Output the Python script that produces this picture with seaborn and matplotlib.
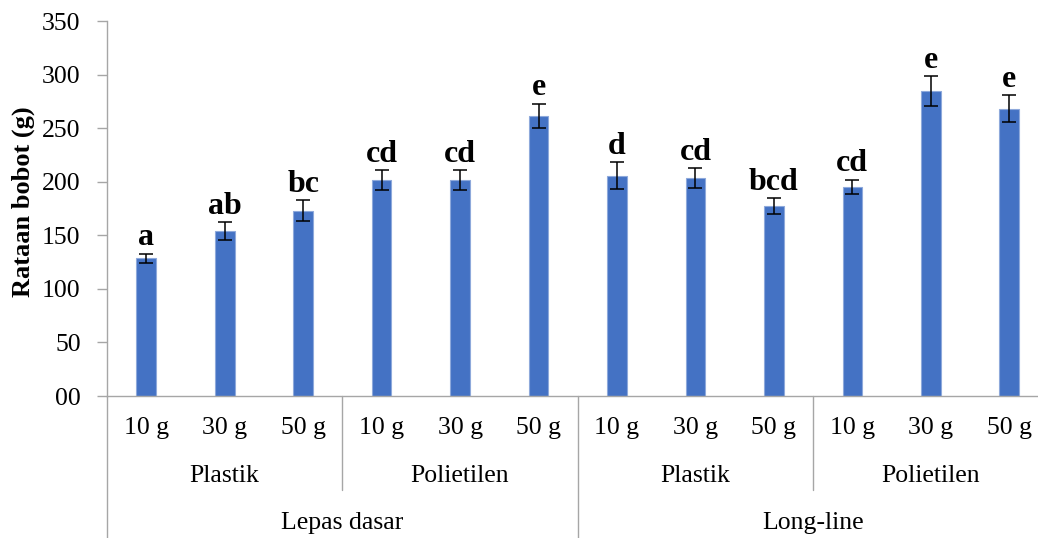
import matplotlib
matplotlib.use("Agg")
import matplotlib.pyplot as plt
import seaborn as sns
import pandas as pd

# Mean weight per treatment, with standard error and significance letters
sizes = ["10 g", "30 g", "50 g"] * 4
materials = ["Plastik", "Polietilen", "Plastik", "Polietilen"]
methods = ["Lepas dasar", "Long-line"]
means = [128.5, 154, 173, 201.5, 201.5, 261.5, 205.5, 203.5, 177, 195.5, 284.5, 268]
errors = [4.5, 8, 10, 9, 9.5, 11.5, 12.5, 9, 7.5, 6.5, 14, 12.5]
letters = ["a", "ab", "bc", "cd", "cd", "e", "d", "cd", "bcd", "cd", "e", "e"]
yticks = [0, 50, 100, 150, 200, 250, 300, 350]
ytick_labels = ["00", "50", "100", "150", "200", "250", "300", "350"]

sns.set_theme(style="white")
plt.rcParams["font.family"] = ["Liberation Serif", "DejaVu Serif"]
plt.rcParams["text.color"] = "black"
plt.rcParams["axes.labelcolor"] = "black"
plt.rcParams["ytick.labelcolor"] = "black"

df = pd.DataFrame({
    "key": [f"t{i}" for i in range(len(means))],
    "mean": means,
})

fig = plt.figure(figsize=(10.38, 5.38), dpi=100)
ax = fig.add_axes([0.1031, 0.2639, 0.907, 0.697])

sns.barplot(data=df, x="key", y="mean", color="#4472C4", width=0.25,
            errorbar=None, edgecolor="#8EA9DB", linewidth=0.8,
            saturation=1, ax=ax)
xs = list(range(len(means)))
ax.errorbar(xs, means, yerr=errors, fmt="none", ecolor="black",
            elinewidth=1.1, capsize=4.8, capthick=1.1)

for x, m, e, lab in zip(xs, means, errors, letters):
    ax.annotate(lab, xy=(x, m + e), xytext=(0, 6), textcoords="offset points",
                ha="center", va="baseline", fontsize=23, fontweight="bold")

ax.set_xlim(-0.5, len(means) - 0.5)
ax.set_ylim(0, 350)
ax.set_yticks(yticks)
ax.set_yticklabels(ytick_labels, fontsize=18.5)
ax.set_xticks([])
ax.set_xlabel("")
ax.set_ylabel("Rataan bobot (g)", fontsize=19, fontweight="bold",
              va="center", ha="center")
ax.yaxis.set_label_coords(-0.0893, 0.517)

axis_gray = "#A6A6A6"
for side in ["top", "right"]:
    ax.spines[side].set_visible(False)
ax.spines["left"].set_color(axis_gray)
ax.spines["bottom"].set_color(axis_gray)
ax.spines["left"].set_linewidth(1.0)
ax.spines["bottom"].set_linewidth(1.0)
ax.tick_params(axis="y", direction="out", length=7, width=1.0, color=axis_gray,
               left=True, pad=12)

trans = ax.get_xaxis_transform()
# Multi-level category labels beneath the axis
for x, s in zip(xs, sizes):
    ax.text(x, -0.085, s, transform=trans, ha="center", va="center", fontsize=18.5)
for i, mat in enumerate(materials):
    ax.text(3 * i + 1, -0.213, mat, transform=trans, ha="center", va="center", fontsize=18.5)
for i, meth in enumerate(methods):
    ax.text(6 * i + 2.5, -0.338, meth, transform=trans, ha="center", va="center", fontsize=18.5)

# Group separators
for xb in [2.5, 8.5]:
    ax.plot([xb, xb], [0, -0.251], transform=trans, color=axis_gray, lw=1.0, clip_on=False)
for xb in [-0.5, 5.5]:
    ax.plot([xb, xb], [0, -0.38], transform=trans, color=axis_gray, lw=1.0, clip_on=False)

fig.savefig("out.png", dpi=100)
